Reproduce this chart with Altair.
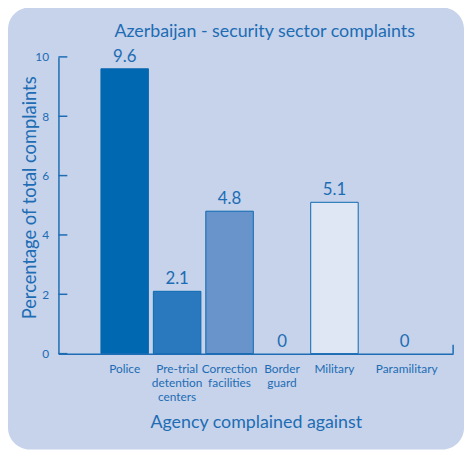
import altair as alt
import pandas as pd

agencies = ["Police", "Pre-trial|detention|centers", "Correction|facilities", "Border|guard", "Military", "Paramilitary"]
values = [9.6, 2.1, 4.8, 0, 5.1, 0]
labels = ["9.6", "2.1", "4.8", "0", "5.1", "0"]
colors = ["#0067b1", "#2a78be", "#6893cb", "#c6d3ea", "#dfe6f4", "#c6d3ea"]
y_ticks = [0, 2, 4, 6, 8, 10]
title_text = "Azerbaijan - security sector complaints"

BLUE = "#1d6cb4"
BG = "#c6d3ea"
FONT = "Lato"
W, H = 399, 300

df = pd.DataFrame({"agency": agencies, "value": values, "label": labels, "color": colors})
ticks_df = pd.DataFrame({"t": y_ticks})

xscale = alt.Scale(domain=agencies, paddingInner=0.094, paddingOuter=0.81)
yscale = alt.Scale(domain=[0, 10], nice=False)

panel = alt.Chart(pd.DataFrame({"a": [0]})).mark_rect(
    fill=BG, cornerRadius=22, clip=False
).encode(
    x=alt.value(-51), x2=alt.value(410), y=alt.value(-50), y2=alt.value(397)
)

title = alt.Chart(pd.DataFrame({"t": [title_text]})).mark_text(
    fontSize=18, font=FONT, color=BLUE, baseline="middle", align="center"
).encode(x=alt.value(W / 2 + 9), y=alt.value(-25), text="t:N")

bars = alt.Chart(df).mark_bar(strokeWidth=1).encode(
    x=alt.X("agency:N", scale=xscale, sort=agencies,
            axis=alt.Axis(title="Agency complained against",
                          labelExpr="split(datum.label, '|')",
                          labelAngle=0, labelPadding=10, labelFontSize=12,
                          labelLineHeight=14, labelBaseline="top",
                          labelOffset=alt.condition("datum.label == 'Paramilitary'", alt.value(20), alt.value(0)),
                          ticks=False, domainColor=BLUE, domainWidth=1.5,
                          labelColor=BLUE, titleColor=BLUE, titleFontSize=18,
                          titleFontWeight="normal", titleY=70, titleBaseline="middle",
                          labelFont=FONT, titleFont=FONT, zindex=1)),
    y=alt.Y("value:Q", scale=yscale,
            axis=alt.Axis(title="Percentage of total complaints", values=y_ticks,
                          ticks=False, grid=False, labelPadding=10, labelFontSize=12,
                          domainColor=BLUE, domainWidth=1.5,
                          labelColor=BLUE, titleColor=BLUE, titleFontSize=18.5,
                          titleFontWeight="normal", titleX=-29, titleY=142,
                          titleAngle=-90, titleAlign="center", titleBaseline="middle",
                          labelFont=FONT, titleFont=FONT, zindex=1)),
    fill=alt.Fill("color:N", scale=None),
    stroke=alt.condition("datum.value > 0", alt.value("#0b68b0"), alt.value(BG)),
    strokeOpacity=alt.condition("datum.value > 0", alt.value(1), alt.value(0)),
)

text_enc = dict(
    x=alt.X("agency:N", scale=xscale, sort=agencies),
    y=alt.Y("value:Q", scale=yscale),
    text="label:N",
)
text_main = alt.Chart(df).mark_text(baseline="bottom", dy=-3, fontSize=17, color=BLUE, font=FONT).encode(
    **text_enc
).transform_filter("datum.agency != 'Paramilitary'")
text_para = alt.Chart(df).mark_text(baseline="bottom", dy=-3, dx=18, fontSize=17, color=BLUE, font=FONT).encode(
    **text_enc
).transform_filter("datum.agency == 'Paramilitary'")

tickmarks = alt.Chart(ticks_df).mark_rule(color=BLUE, strokeWidth=1.5).encode(
    y=alt.Y("t:Q", scale=yscale), x=alt.value(0), x2=alt.value(9)
)

end_tick = alt.Chart(pd.DataFrame({"a": [0]})).mark_rule(color=BLUE, strokeWidth=1.5).encode(
    x=alt.value(W), y=alt.value(H - 9), y2=alt.value(H)
)

chart = alt.layer(panel, title, bars, text_main, text_para, tickmarks, end_tick).properties(
    width=W, height=H,
    autosize=alt.AutoSizeParams(type="none"),
    padding={"left": 51, "top": 47, "right": 11, "bottom": 97},
    background="white",
).configure_view(stroke=None)

chart.save("out.html", embed_options={"renderer": "svg", "actions": False})
